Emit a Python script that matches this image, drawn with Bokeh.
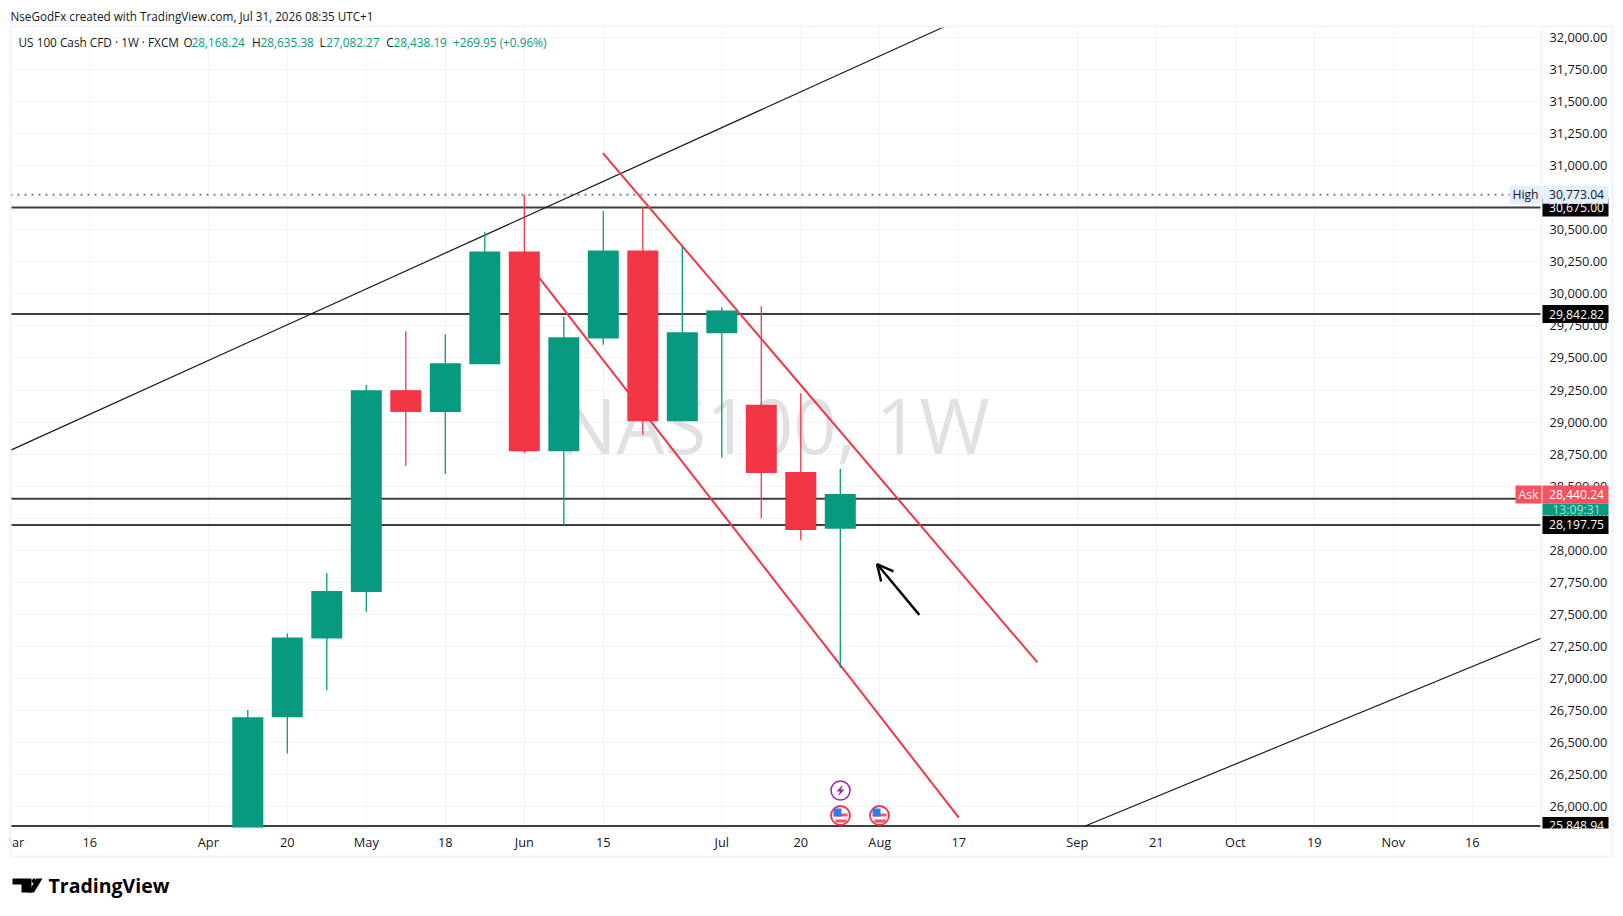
from bokeh.plotting import figure
from bokeh.embed import file_html
from bokeh.resources import INLINE
from bokeh.layouts import column
from bokeh.models import Label, BoxAnnotation, FixedTicker, NumeralTickFormatter, Arrow, OpenHead, Range1d, PolyAnnotation

# ---------- data ----------
weeks  = [6, 7, 8, 9, 10, 11, 12, 13, 14, 15, 16, 17, 18, 19, 20, 21]
opens  = [25450, 26697, 27311, 27674, 29249, 29079, 29451, 30331, 28772, 29653, 30339, 29007, 29693, 29136, 28611, 28168.24]
highs  = [26753, 27351, 27820, 29289, 29709, 29685, 30485, 30773.04, 29822, 30646, 30678, 30371, 29895, 29903, 29225, 28635.38]
lows   = [25300, 26414, 26907, 27521, 28659, 28595, 29451, 28756, 28199, 29604, 28902, 29007, 28724, 28247, 28078, 27082.27]
closes = [26697, 27319, 27682, 29249, 29079, 29459, 30331, 28772, 29661, 30339, 29007, 29701, 29871, 28603, 28159, 28438.19]

h_levels = [30675.00, 29842.82, 28401, 28197.75, 25848.94]
trend_black_1 = ([0.0, 23.63], [28781, 32084])
trend_black_2 = ([27.2, 38.78], [25849, 27319])
channel_upper = ([14.99, 25.99], [31098, 27125])
channel_lower = ([13.31, 24.0], [30153, 25914])
arrow_pts = ([23.0, 21.93], [27496, 27892])

price_ticks = list(range(26000, 32001, 250))
time_ticks = [0, 2, 5, 7, 9, 11, 13, 15, 18, 20, 22, 24, 27, 29, 31, 33, 35, 37]
time_labels = ["Mar", "16", "Apr", "20", "May", "18", "Jun", "15", "Jul", "20", "Aug", "17", "Sep", "21", "Oct", "19", "Nov", "16"]

tag_values = ["30,675.00", "29,842.82", "28,197.75", "25,848.94"]
tag_prices = [30675.00, 29842.82, 28197.75, 25848.94]
high_price, ask_price = 30773.04, 28440.24

title_text = "NseGodFx created with TradingView.com, Jul 31, 2026 08:35 UTC+1"
legend_parts = [("US 100 Cash CFD · 1W · FXCM", 18, "#131722"), ("O", 183, "#131722"), ("28,168.24", 191, "#089981"),
                ("H", 251.4, "#131722"), ("28,635.38", 260, "#089981"), ("L", 319, "#131722"), ("27,082.27", 325.7, "#089981"),
                ("C", 385.7, "#131722"), ("28,438.19", 393, "#089981"), ("+269.95 (+0.96%)", 452.5, "#089981")]

# ---------- page geometry (picture pixels) ----------
W, H = 1618, 912
L, R, T, B = 10, 1541, 27, 828
X0, DX = 10.3, 39.5
Y30K, DY = 293.4, 0.12818
FONT = "Open Sans"
GREEN, RED, INK = "#089981", "#f23645", "#131722"

def X(px):
    return (px - X0) / DX
def Y(py):
    return 30000 + (Y30K - py) / DY
def PY(price):
    return Y30K - (price - 30000) * DY

p = figure(output_backend="svg", toolbar_location=None, frame_width=R - L, frame_height=B - T,
           min_border_left=L, min_border_right=W - R, min_border_top=T, min_border_bottom=H - B,
           x_range=Range1d(X(L), X(R)), y_range=Range1d(Y(B), Y(T)), y_axis_location="right",
           background_fill_color="white", border_fill_color="white", outline_line_color=None)

p.xgrid.ticker = FixedTicker(ticks=time_ticks)
p.ygrid.ticker = FixedTicker(ticks=price_ticks)
p.xgrid.grid_line_color = "#f2f3f5"
p.ygrid.grid_line_color = "#f2f3f5"

xa = p.xaxis[0]
xa.ticker = FixedTicker(ticks=time_ticks)
xa.major_label_overrides = {t: s for t, s in zip(time_ticks, time_labels)}
ya = p.yaxis[0]
ya.ticker = FixedTicker(ticks=price_ticks)
ya.formatter = NumeralTickFormatter(format="0,0.00")
for ax in (xa, ya):
    ax.major_tick_line_color = None
    ax.minor_tick_line_color = None
    ax.axis_line_color = "#f0f3fa"
    ax.axis_line_width = 2
    ax.major_label_text_font = FONT
    ax.major_label_text_font_size = "12.8px"
    ax.major_label_text_color = INK
xa.major_label_standoff = -2
ya.major_label_standoff = 2

# watermark
wm = Label(x=X(774), y=Y(424), text="NAS100, 1W", text_color="#e0e1e3", text_font=FONT, text_font_size="76px",
           text_align="center", text_baseline="middle", level="underlay")
p.add_layout(wm)

# high dotted line
p.line([X(L), X(R)], [high_price, high_price], line_color="#808080", line_width=2, line_dash="2 5")

# horizontal levels
for lv in h_levels:
    p.line([X(L), X(R)], [lv, lv], line_color="#3f3f3f", line_width=2)

# trend lines
for xs, ys in (trend_black_1, trend_black_2):
    p.line(xs, ys, line_color="#1a1a1a", line_width=1.2)
for xs, ys in (channel_upper, channel_lower):
    p.line(xs, ys, line_color=RED, line_width=2)

# candles
colors = [GREEN if c >= o else RED for o, c in zip(opens, closes)]
p.segment(weeks, lows, weeks, highs, line_color=colors, line_width=1.3)
p.vbar(x=weeks, bottom=[min(o, c) for o, c in zip(opens, closes)], top=[max(o, c) for o, c in zip(opens, closes)],
       width=31 / DX, fill_color=colors, line_color=None)

# arrow
p.add_layout(Arrow(end=OpenHead(size=16, line_color="#000000", line_width=2.4), x_start=arrow_pts[0][0], y_start=arrow_pts[1][0],
                   x_end=arrow_pts[0][1], y_end=arrow_pts[1][1], line_color="#000000", line_width=2.4))

# event icons
def ring(px, py, r, line, lw):
    p.scatter([X(px)], [Y(py)], size=2 * r, marker="circle", fill_color="white", line_color=line, line_width=lw)

ring(840, 790, 9.5, "#9c27b0", 1.6)
p.patch([X(v) for v in (842.5, 836, 839.5, 837.5, 844, 840.5)],
        [Y(v) for v in (784, 791, 791, 796, 789, 789)], fill_color="#9c27b0", line_color=None)

def flag(px, py):
    ring(px, py, 9.5, RED, 1.8)
    p.quad(left=[X(px - 6)], right=[X(px + 7)], top=[Y(py - 2)], bottom=[Y(py + 1)], fill_color="#f7525f", line_color=None)
    p.quad(left=[X(px - 5)], right=[X(px + 6)], top=[Y(py + 4)], bottom=[Y(py + 7)], fill_color="#f7525f", line_color=None)
    p.quad(left=[X(px - 7)], right=[X(px + 1)], top=[Y(py - 7)], bottom=[Y(py + 1)], fill_color="#2f7ef0", line_color=None)

flag(840, 815)
flag(879, 815)

# ---------- transparent overlay, in picture pixels, for everything outside the pane ----------
o = figure(output_backend="svg", toolbar_location=None, width=W, height=H, min_border=0,
           x_range=Range1d(0, W), y_range=Range1d(H, 0), x_axis_location=None, y_axis_location=None,
           background_fill_alpha=0, border_fill_alpha=0, outline_line_color=None)
o.grid.visible = False

def label(px, py, text, color=INK, size="12.2px", align="left", style="normal"):
    o.add_layout(Label(x=px, y=py, text=text, text_color=color, text_font=FONT, text_font_size=size,
                       text_align=align, text_baseline="middle", text_font_style=style))

def box(x0, x1, y0, y1, color):
    o.add_layout(BoxAnnotation(left=x0, right=x1, top=y0, bottom=y1, fill_color=color, fill_alpha=1, line_color=None))

tx = 1576
for s, pr in zip(tag_values, tag_prices):
    box(1542, 1608, PY(pr) - 9, PY(pr) + 9, "#000000")
    label(tx, PY(pr), s, color="white", align="center")
# pane bottom clips the last tag
box(1541.5, 1611, B, 855, "#ffffff")
# high
box(1509, 1541, PY(high_price) - 9, PY(high_price) + 9, "#e3effd")
box(1542, 1608, PY(high_price) - 9, PY(high_price) + 9, "#e3effd")
label(1525, PY(high_price), "High", align="center")
label(tx, PY(high_price), "30,773.04", align="center")
# ask and countdown
box(1515, 1541, 485, 503, "#f7525f")
box(1542, 1608, 485, 503, "#f7525f")
box(1542, 1608, 503, 515, GREEN)
label(1528, 494, "Ask", color="white", align="center")
label(tx, 494, "28,440.24", color="white", align="center")
label(tx, 508.5, "13:09:31", color="#a9dfd2", align="center")

# outer frame
box(0, L - 1, 829, 855, "#ffffff")
box(L - 1, 1613, T - 2, T, "#f0f3fa")
box(L - 1, L + 1, T, 857, "#f0f3fa")
box(1611, 1613, T, 857, "#f0f3fa")
box(L - 1, 1613, 855, 857, "#f0f3fa")

# header
label(10, 15, title_text, size="11.7px")
for text, px, col in legend_parts:
    label(px, 41.5, text, color=col, size="11.8px")

# logo
logo_shapes = [
    ([12, 31, 31, 21, 21, 12], [878, 878, 892, 892, 884, 884]),
    ([36, 42, 33.5, 27.5], [878, 878, 892, 892]),
    ([32.5, 34.5, 36, 34.5, 32.5, 31, 32.5], [878, 878, 880.5, 883, 883, 880.5, 878]),
]
for xs, ys in logo_shapes:
    o.add_layout(PolyAnnotation(xs=xs, ys=ys, fill_color="#000000", fill_alpha=1, line_color=None))
label(48, 885, "TradingView", color="#000000", size="19.5px", style="bold")

page = column(p, column(o, margin=(-H, 0, 0, 0)), spacing=0)
open("out.html", "w").write(file_html(page, INLINE))
